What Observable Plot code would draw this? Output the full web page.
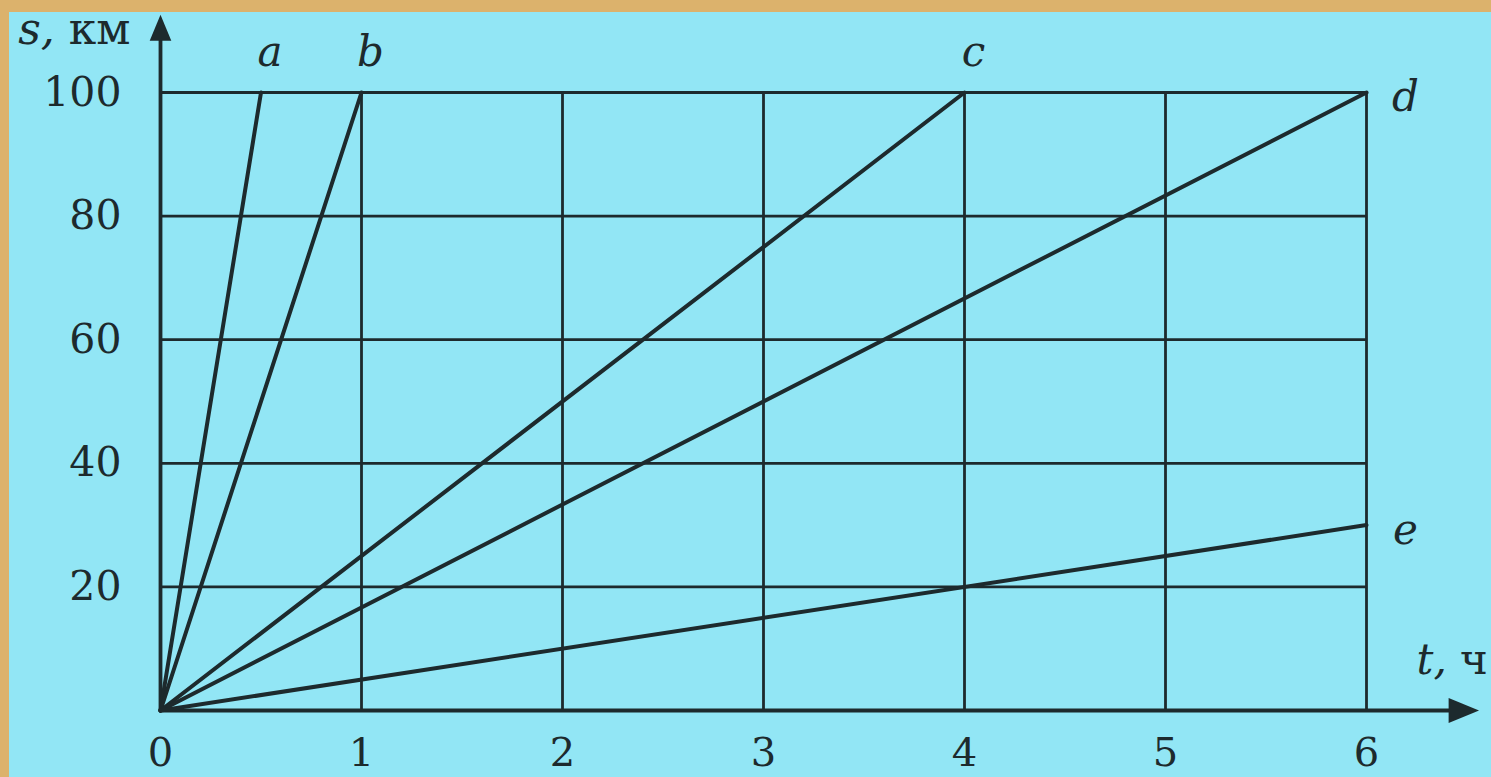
<!DOCTYPE html>
<html><head><meta charset="utf-8">
<script src="https://cdn.jsdelivr.net/npm/d3@7"></script>
<script src="https://cdn.jsdelivr.net/npm/@observablehq/plot@0.6"></script>
<style>
html,body{margin:0;padding:0;background:#dcb26c;width:1491px;height:777px;overflow:hidden}
#panel{position:absolute;left:9px;top:12px;width:1482px;height:765px;background:#92e6f5}
#chart{position:absolute;left:0;top:0}
</style></head>
<body><div id="panel"><div id="chart"></div></div>
<script>
// data
const lineNames = ["a", "b", "c", "d", "e"];
const lineEndT = [0.5, 1, 4, 6, 6];
const lineEndS = [100, 100, 100, 100, 30];
const xTicks = [0, 1, 2, 3, 4, 5, 6];
const yTicks = [20, 40, 60, 80, 100];
const xLabel = "t, ч";
const yLabel = "s, км";
const tAxisEnd = 6.56;
const sAxisEnd = 112.6;

const lines = lineNames.map((name, i) => ({name, t: lineEndT[i], s: lineEndS[i]}));
const ink = "#1d2a2d";

const arrowHead = {
  draw(ctx, size) {
    const r = Math.sqrt(size / Math.PI);
    const h = 2.9 * r, w = 1.2 * r;
    ctx.moveTo(0, 0);
    ctx.lineTo(-w, h);
    ctx.lineTo(w, h);
    ctx.closePath();
  }
};

const tMin = xTicks[0], tMax = xTicks[xTicks.length - 1];
const sMin = 0, sMax = yTicks[yTicks.length - 1];
const fmt = d3.format("d");

const svg = Plot.plot({
  width: 1482,
  height: 765,
  marginLeft: 151,
  marginRight: 125,
  marginTop: 80,
  marginBottom: 67,
  style: {background: "transparent", color: ink, fontFamily: "DejaVu Serif", fontSize: "40px", overflow: "visible"},
  x: {domain: [tMin, tMax]},
  y: {domain: [sMin, sMax]},
  marks: [
    Plot.ruleY(yTicks, {y: d => d, x1: tMin, x2: tMax, stroke: ink, strokeWidth: 2.8}),
    Plot.ruleX(xTicks.slice(1), {x: d => d, y1: sMin, y2: sMax, stroke: ink, strokeWidth: 2.8}),
    Plot.ruleX([tMin], {y1: sMin, y2: sAxisEnd - 2, stroke: ink, strokeWidth: 3.8}),
    Plot.ruleY([sMin], {x1: tMin, x2: tAxisEnd - 0.05, stroke: ink, strokeWidth: 3.8}),
    Plot.dot([{t: tMin, s: sAxisEnd}], {x: "t", y: "s", symbol: arrowHead, r: 9, fill: ink, stroke: "none"}),
    Plot.dot([{t: tAxisEnd, s: sMin}], {x: "t", y: "s", symbol: arrowHead, r: 10.5, rotate: 90, fill: ink, stroke: "none"}),
    Plot.link(lines, {x1: () => 0, y1: () => 0, x2: "t", y2: "s", stroke: ink, strokeWidth: 4, strokeLinecap: "round"}),
    Plot.text(lines, {filter: d => d.t < tMax, x: "t", y: "s", text: "name", dx: 9, dy: -40, fontStyle: "italic", fontSize: 42, fill: ink}),
    Plot.text(lines, {filter: d => d.t >= tMax, x: "t", y: "s", text: "name", dx: 39, dy: 5, fontStyle: "italic", fontSize: 42, fill: ink}),
    Plot.axisX(xTicks, {tickSize: 0, tickPadding: 27, label: null, fontSize: 40, tickFormat: fmt}),
    Plot.axisY(yTicks, {tickSize: 0, tickPadding: 39, label: null, fontSize: 41, tickFormat: fmt}),
    Plot.text([yLabel], {x: () => tMin, y: () => sAxisEnd, text: d => d, textAnchor: "end", dx: -30, dy: 15, fontSize: 44, fill: ink}),
    Plot.text([xLabel], {x: () => tMax, y: () => sMin, text: d => d, textAnchor: "start", dx: 50, dy: -50, fontSize: 42, fill: ink})
  ]
});

d3.select(svg).selectAll("text").each(function () {
  const t = this.textContent;
  if (t === yLabel || t === xLabel) {
    const [v, u] = t.split(", ");
    this.textContent = "";
    d3.select(this).append("tspan").attr("font-style", "italic").text(v + ",");
    d3.select(this).append("tspan").text(" " + u);
  }
});

document.getElementById("chart").appendChild(svg);
</script>
</body></html>
